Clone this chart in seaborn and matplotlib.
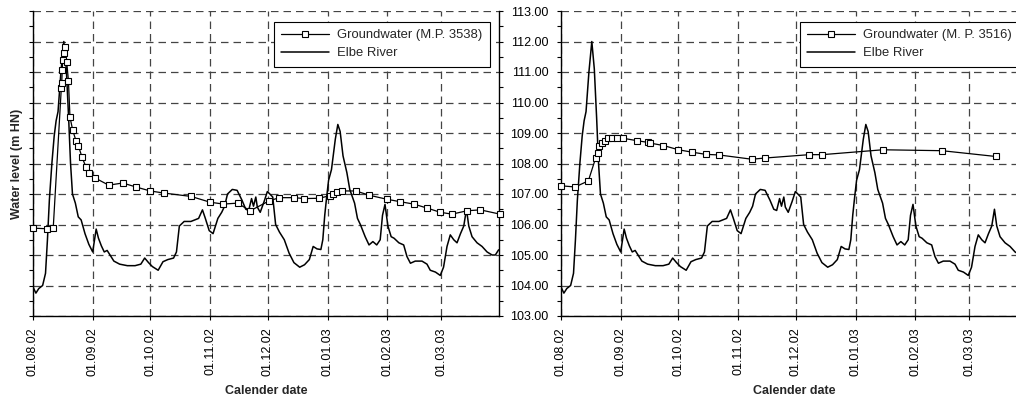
import pandas as pd
import matplotlib.pyplot as plt
import matplotlib.dates as mdates
from matplotlib.ticker import MultipleLocator, FormatStrFormatter
import seaborn as sns

start = pd.Timestamp("2002-08-01")
end = pd.Timestamp("2003-03-31")

# Elbe River stage, days after 01.08.02 and level in m HN
elbe_day = [0, 1.5, 3, 5, 6.5, 7.5, 8.5, 9.8, 11, 12,
            13, 14.5, 16, 17.3, 18.5, 19.5, 20.5, 22, 23.5, 25,
            27, 29, 31, 32.8, 34, 35.5, 37, 38.5, 40, 42,
            45, 49, 53, 56, 58, 60, 62, 65, 67.5, 70,
            73, 74.5, 76, 78.5, 82, 86, 88, 89.5, 91.5, 93.5,
            96, 98, 99.5, 101, 103.5, 106, 108.5, 110.5, 112, 113.5,
            114.5, 115.7, 116.5, 118, 120, 121.7, 123, 124.5, 126, 128,
            130.5, 133, 135.5, 138.5, 141, 143.5, 145.5, 147.5, 149.5, 150.5,
            151.5, 152.5, 153.5, 155, 157, 158.3, 159.5, 161, 163, 164.5,
            167, 168.5, 170, 172.5, 174.5, 176.5, 178.5, 180.3, 181.5, 182.8,
            184.3, 186, 187.5, 190, 192.5, 194.2, 196, 198.5, 202, 204.6,
            206.3, 209, 211.5, 213.2, 215, 216.7, 218.5, 220.2, 222, 223.7,
            225.1, 226.3, 228, 230.6, 233.2, 235.8, 238.4, 240.1, 241.8]
elbe_level = [103.95, 103.75, 103.9, 104.0, 104.4, 105.5, 106.8, 108.0, 108.9, 109.4,
              109.7, 111.0, 112.0, 111.1, 109.5, 108.0, 107.0, 106.7, 106.25, 106.15,
              105.7, 105.35, 105.1, 105.85, 105.55, 105.3, 105.1, 105.15, 105.0, 104.8,
              104.7, 104.65, 104.65, 104.7, 104.9, 104.75, 104.62, 104.5, 104.78, 104.85,
              104.9, 105.1, 105.95, 106.1, 106.1, 106.2, 106.48, 106.2, 105.8, 105.7,
              106.2, 106.4, 106.6, 107.0, 107.15, 107.12, 106.8, 106.5, 106.46, 106.85,
              106.6, 106.9, 106.57, 106.4, 106.75, 107.08, 107.0, 106.9, 106.0, 105.75,
              105.5, 105.06, 104.75, 104.6, 104.68, 104.85, 105.28, 105.2, 105.18, 105.5,
              106.3, 106.9, 107.45, 107.8, 108.8, 109.28, 109.05, 108.25, 107.7, 107.15,
              106.7, 106.2, 106.0, 105.6, 105.33, 105.44, 105.33, 105.5, 106.3, 106.66,
              105.95, 105.6, 105.55, 105.4, 105.33, 104.95, 104.73, 104.8, 104.8, 104.7,
              104.5, 104.44, 104.33, 104.6, 105.28, 105.66, 105.5, 105.4, 105.7, 105.95,
              106.5, 105.95, 105.6, 105.4, 105.28, 105.1, 105.0, 105.0, 105.17]

# groundwater M.P. 3538
gw3538_day = [0, 7.5, 10.5, 14.7, 14.9, 15.2, 15.4, 16.1, 16.6, 17.5,
              18.4, 19.2, 20.6, 22.3, 23.5, 25.5, 27.4, 29.3, 32.4, 39.3,
              46.6, 53.5, 60.8, 68.1, 82.1, 92, 98.9, 106.2, 112.8, 122.8,
              128, 135.7, 140.9, 148.6, 154.4, 156, 157.8, 160.4, 167.7, 174.6,
              183.6, 190.4, 197.7, 204.6, 211.5, 217.6, 225.4, 232.3, 242.5]
gw3538_level = [105.88, 105.86, 105.88, 110.47, 110.64, 111.07, 111.38, 111.62, 111.82, 111.34,
                110.71, 109.52, 109.1, 108.75, 108.59, 108.2, 107.9, 107.69, 107.52, 107.29,
                107.36, 107.23, 107.1, 107.03, 106.92, 106.73, 106.67, 106.7, 106.45, 106.78,
                106.88, 106.88, 106.85, 106.86, 106.95, 107.0, 107.05, 107.1, 107.1, 106.96,
                106.83, 106.75, 106.67, 106.54, 106.4, 106.34, 106.45, 106.48, 106.34]

# groundwater M.P. 3516
gw3516_day = [0, 7.3, 14.2, 18, 19, 19.9, 21.1, 22.9, 24.6, 26.3,
              28.9, 32, 39.3, 45.4, 46.2, 53.2, 61, 68.2, 75.2, 82.1,
              99.1, 106, 129, 135.7, 167.1, 197.8, 225.8]
gw3516_level = [107.27, 107.23, 107.43, 108.18, 108.34, 108.56, 108.67, 108.75, 108.83, 108.84,
                108.84, 108.83, 108.75, 108.69, 108.67, 108.59, 108.45, 108.37, 108.3, 108.28,
                108.14, 108.18, 108.29, 108.29, 108.45, 108.42, 108.23]


def to_frame(days, levels):
    return pd.DataFrame({"date": start + pd.to_timedelta(days, unit="D"), "level": levels})


elbe = to_frame(elbe_day, elbe_level)
gw3538 = to_frame(gw3538_day, gw3538_level)
gw3516 = to_frame(gw3516_day, gw3516_level)

sns.set_style("ticks")
plt.rcParams["font.family"] = ["Liberation Sans", "DejaVu Sans"]
plt.rcParams["axes.edgecolor"] = "black"

fig = plt.figure(figsize=(10.16, 4.04), dpi=100)
ax1 = fig.add_axes([33 / 1016, 88 / 404, 466 / 1016, 305 / 404])
ax2 = fig.add_axes([561 / 1016, 88 / 404, 466 / 1016, 305 / 404])


def panel(ax, gw, gw_label, legend_left):
    sns.lineplot(data=elbe, x="date", y="level", ax=ax, color="black",
                 linewidth=1.1, label="Elbe River", zorder=3)
    sns.lineplot(data=gw, x="date", y="level", ax=ax, color="black",
                 linewidth=0.9, marker="s", markersize=5, markerfacecolor="white",
                 markeredgecolor="black", markeredgewidth=0.8, label=gw_label,
                 zorder=4, clip_on=False)
    ax.set_xlim(start, end)
    ax.set_ylim(103, 113)
    ax.xaxis.set_major_locator(mdates.MonthLocator())
    ax.xaxis.set_major_formatter(mdates.DateFormatter("%d.%m.%y"))
    ax.yaxis.set_major_locator(MultipleLocator(1))
    ax.yaxis.set_minor_locator(MultipleLocator(0.5))
    ax.yaxis.set_major_formatter(FormatStrFormatter("%.2f"))
    ax.grid(True, which="major", color="#444444", linestyle=(0, (6, 4)), linewidth=0.9)
    ax.spines["top"].set_visible(False)
    for s in ["left", "right", "bottom"]:
        ax.spines[s].set_linewidth(1.0)
    ax.tick_params(which="both", direction="out", length=3, width=0.8, color="black",
                   labelsize=9, labelcolor="black")
    ax.tick_params(axis="x", labelrotation=90, pad=5, top=False)
    ax.tick_params(axis="y", which="both", left=True, right=True, labelright=False, pad=6)
    ax.set_xlabel("Calender date", fontsize=9, fontweight="bold")
    ax.xaxis.set_label_coords(0.5, -0.225)
    ax.set_ylabel("")

    handles, labels = ax.get_legend_handles_labels()
    leg = ax.legend(handles[::-1], labels[::-1], loc="upper left",
                    bbox_to_anchor=(legend_left, 1 - 11 / 305), fontsize=9.4,
                    frameon=True, fancybox=False, framealpha=1, edgecolor="black",
                    handlelength=3.7, handletextpad=0.6, borderaxespad=0,
                    labelspacing=0.45, borderpad=0.55)
    leg.get_frame().set_linewidth(0.8)


panel(ax1, gw3538, "Groundwater (M.P. 3538)", (274 - 33) / 466)
panel(ax2, gw3516, "Groundwater (M. P. 3516)", (800 - 561) / 466)

ax1.tick_params(axis="y", labelleft=False)
ax1.set_ylabel("Water level (m HN)", fontsize=9, fontweight="bold")
ax1.yaxis.set_label_coords(-0.022, 0.5)

fig.savefig("out.png", dpi=100)
